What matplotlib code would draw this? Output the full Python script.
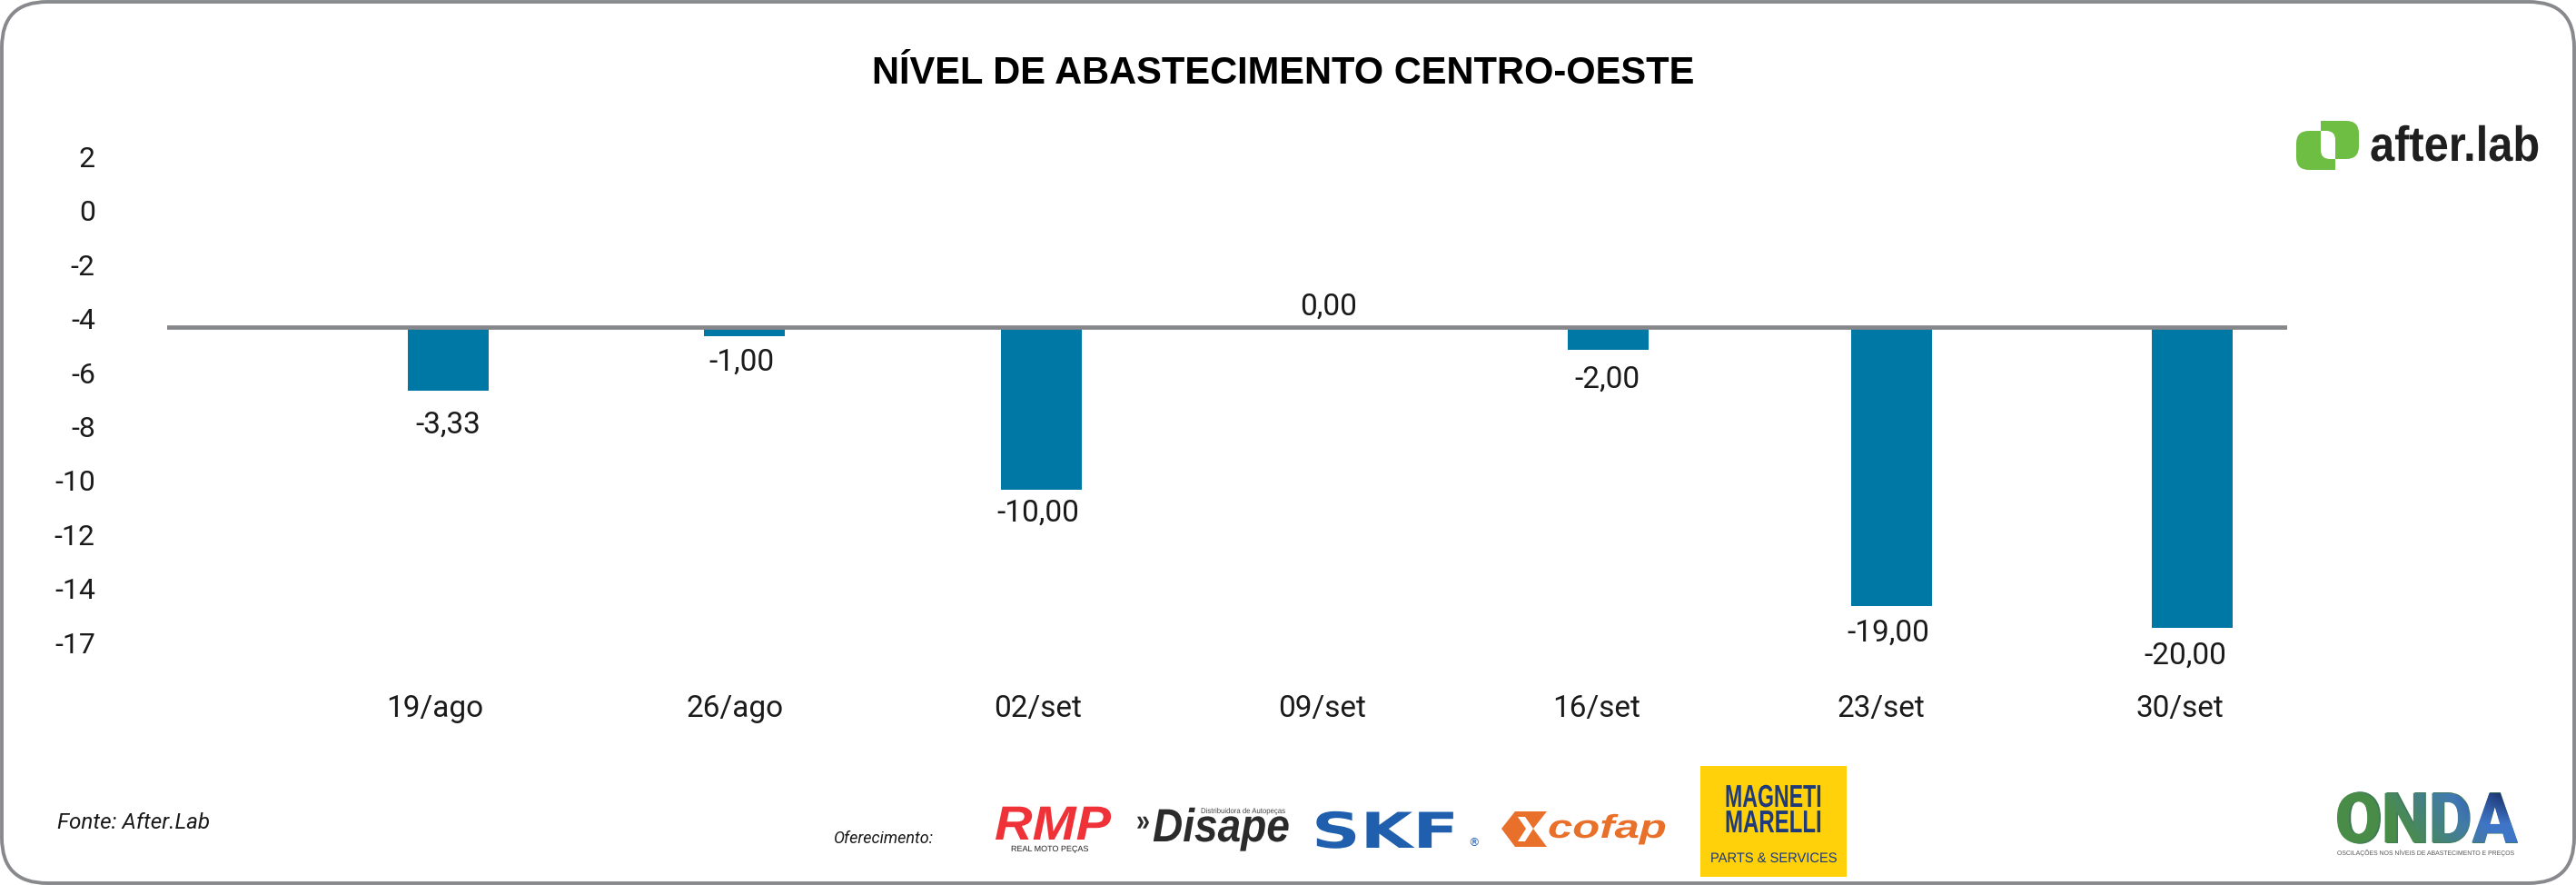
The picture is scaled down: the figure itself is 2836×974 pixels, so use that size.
import numpy as np
import matplotlib
matplotlib.use("Agg")
import matplotlib.pyplot as plt
from matplotlib.patches import PathPatch, Polygon
from matplotlib.path import Path
from matplotlib.textpath import TextPath
from matplotlib.font_manager import FontProperties
from matplotlib.patheffects import AbstractPathEffect
from matplotlib.transforms import Affine2D, IdentityTransform, ScaledTranslation

# ---------- data ----------
categories = ["19/ago", "26/ago", "02/set", "09/set", "16/set", "23/set", "30/set"]
bar_levels = [-6.60, -4.55, -10.26, -4.23, -5.07, -14.57, -15.37]
value_labels = ["-3,33", "-1,00", "-10,00", "0,00", "-2,00", "-19,00", "-20,00"]
baseline_level = -4.23
y_tick_positions = [2, 0, -2, -4, -6, -8, -10, -12, -14, -16]
y_tick_labels = ["2", "0", "-2", "-4", "-6", "-8", "-10", "-12", "-14", "-17"]

# ---------- layout (pixels of the 2836x974 canvas) ----------
W, H = 2836, 974
BAR_X = [493, 819, 1146, 1458, 1770, 2082, 2413]
CAT_X = [479, 809, 1143, 1456, 1758, 2071, 2400]
LABEL_DX = [0, -3, -3, 5, -1, -3, -7]
LABEL_DY = [37, 29, 26, -22, 33, 30, 31]
BAR_COLOR = "#0078A5"
GREY = "#86878A"
INK = "#1A1A1A"
FONT = "Roboto"

fig = plt.figure(figsize=(W / 100, H / 100), dpi=100, facecolor="white")
renderer = fig.canvas.get_renderer()

# ---------- chart ----------
ax = fig.add_axes([184 / W, 1 - 720 / H, (2518 - 184) / W, (720 - 160) / H])
ax.set_xlim(184, 2518)
ax.set_ylim(2 - (720 - 175) / 29.7, 2 - (160 - 175) / 29.7)
ax.patch.set_alpha(0)
for s in ax.spines.values():
    s.set_visible(False)

heights = [lv - baseline_level for lv in bar_levels]
ax.bar(BAR_X, heights, bottom=baseline_level, width=89, color=BAR_COLOR, zorder=2)
ax.axhline(baseline_level, color=GREY, lw=3.4, zorder=3)

ax.set_yticks(y_tick_positions)
ax.set_yticklabels(y_tick_labels, fontsize=23, family=FONT, color=INK)
ax.set_xticks(CAT_X)
ax.set_xticklabels(categories, fontsize=24, family=FONT, color=INK)
ax.tick_params(axis="y", length=0, pad=57)
ax.tick_params(axis="x", length=0, pad=32)
for lab in ax.get_yticklabels():
    lab.set_transform(lab.get_transform() + ScaledTranslation(0, 2.5 / 100, fig.dpi_scale_trans))

for x, lv, txt, dx, dy in zip(BAR_X, bar_levels, value_labels, LABEL_DX, LABEL_DY):
    ax.annotate(txt, xy=(x, lv), xytext=(dx, -dy), textcoords="offset pixels",
                ha="center", va="center", fontsize=24, family=FONT, color=INK, zorder=4)

# ---------- overlay: frame, title, footer, logos ----------
ov = fig.add_axes([0, 0, 1, 1], zorder=10)
ov.set_xlim(0, W)
ov.set_ylim(H, 0)
ov.axis("off")
ov.patch.set_alpha(0)


def rrect(x0, y0, x1, y1, tl=0, tr=0, br=0, bl=0):
    """Rounded rectangle path with its own radius per corner (y grows downward)."""
    v = [(x0 + tl, y0), (x1 - tr, y0), (x1, y0), (x1, y0 + tr), (x1, y1 - br), (x1, y1),
         (x1 - br, y1), (x0 + bl, y1), (x0, y1), (x0, y1 - bl), (x0, y0 + tl), (x0, y0),
         (x0 + tl, y0), (x0 + tl, y0)]
    c = [Path.MOVETO, Path.LINETO, Path.CURVE3, Path.CURVE3, Path.LINETO, Path.CURVE3, Path.CURVE3,
         Path.LINETO, Path.CURVE3, Path.CURVE3, Path.LINETO, Path.CURVE3, Path.CURVE3, Path.CLOSEPOLY]
    return Path(v, c)


class HStretch(AbstractPathEffect):
    """Stretches a text horizontally about x0 (display px) so it fits a logo's box."""
    def __init__(self, sx, x0):
        super().__init__()
        self.sx, self.x0 = sx, x0

    def draw_path(self, renderer, gc, tpath, affine, rgbFace=None):
        a = affine + Affine2D().translate(-self.x0, 0).scale(self.sx, 1).translate(self.x0, 0)
        renderer.draw_path(gc, tpath, a, rgbFace)


def fit_text(s, x0, x1, baseline, size, color, family="Liberation Sans", weight="bold", style="normal"):
    t = ov.text(x0, baseline, s, ha="left", va="baseline", fontsize=size, color=color,
                family=family, weight=weight, style=style, zorder=5)
    w = t.get_window_extent(renderer).width
    t.set_path_effects([HStretch((x1 - x0) / w, x0)])
    return t


# frame
ov.add_patch(PathPatch(rrect(2, 2, W - 2, H - 2, 50, 50, 50, 50), fc="none", ec="#88898C", lw=2.8, zorder=1))

# title and footer
ov.text(1413, 81, "NÍVEL DE ABASTECIMENTO CENTRO-OESTE", ha="center", va="center",
        fontsize=30, family="Liberation Sans", weight="bold", color="black")
ov.text(63, 905, "Fonte: After.Lab", ha="left", va="center", fontsize=17.5, family=FONT, style="italic", color=INK)
ov.text(918, 923, "Oferecimento:", ha="left", va="center", fontsize=13, family=FONT, style="italic", color=INK)

# after.lab logo
GREEN = "#6FBE44"
ov.add_patch(PathPatch(rrect(2528, 144, 2571, 187, tl=14, bl=14), fc=GREEN, ec="none", zorder=3))
ov.add_patch(PathPatch(rrect(2555, 133, 2597, 175, tr=14, br=14), fc=GREEN, ec="none", zorder=3))
ov.add_patch(PathPatch(rrect(2555, 144, 2571, 175, tr=10, bl=10), fc="white", ec="none", zorder=4))
fit_text("after.lab", 2609, 2796, 177, 39, "#1F1F1F")

# RMP
fit_text("RMP", 1095, 1223, 924, 38, "#EE3237", style="italic")
fit_text("REAL MOTO PEÇAS", 1113, 1198, 937, 6.5, "#222222", weight="normal")

# Disape
fit_text("»", 1251, 1266, 914, 24, "#2B2B2B")
fit_text("Disape", 1269, 1420, 926, 37, "#2B2B2B", style="italic")
fit_text("Distribuidora de Autopeças", 1322, 1416, 895, 6, "#444444", weight="normal")

# SKF
SKF_BLUE = "#1F5FAE"
fit_text("SKF", 1444, 1606, 933, 39, SKF_BLUE, family="DejaVu Sans")
ov.text(1622, 928, "®", ha="center", va="center", fontsize=9, color=SKF_BLUE, family="DejaVu Sans")

# cofap
ORANGE = "#E8702A"
ov.add_patch(Polygon([(1653, 912), (1668, 893), (1703, 893), (1688, 912), (1703, 932), (1668, 932)],
                     closed=True, fc=ORANGE, ec="none", zorder=3))
ov.add_patch(Polygon([(1671, 899), (1679, 899), (1688, 912), (1679, 926), (1671, 926), (1680, 912)],
                     closed=True, fc="white", ec="none", zorder=4))
fit_text("cofap", 1704, 1835, 922, 26, ORANGE, style="italic")

# Magneti Marelli
NAVY = "#1F3A7A"
ov.add_patch(PathPatch(rrect(1872, 843, 2033, 965), fc="#FFD10A", ec="none", zorder=3))
fit_text("MAGNETI", 1899, 2006, 888, 25, NAVY)
fit_text("MARELLI", 1899, 2006, 916, 25, NAVY)
fit_text("PARTS & SERVICES", 1883, 2022, 949, 11, NAVY, weight="normal")

# ONDA logo: real text, with a landscape-like gradient clipped to the same letters on top
OX0, OX1, OY0, OY1 = 2573, 2772, 872, 928
ONDA_PROP = FontProperties(family=FONT, weight=900)
t = fit_text("ONDA", OX0, OX1, OY1, 56 / 0.711 * 0.72, "#3F7A55", family=FONT, weight=900)
tp = TextPath((0, 0), "ONDA", size=100, prop=ONDA_PROP)
ext = tp.get_extents()
to_px = (Affine2D().translate(-ext.x0, -ext.y0)
         .scale((OX1 - OX0) / ext.width, (OY1 - OY0) / ext.height)
         .translate(OX0, H - OY1))
u, v = np.meshgrid(np.linspace(0, 1, 200), np.linspace(0, 1, 60))
green = np.array([0.29, 0.55, 0.28])
blue = np.array([0.25, 0.46, 0.78])
navy = np.array([0.05, 0.10, 0.30])
mix = np.clip((u - 0.3) / 0.5 + (0.5 - v) * 0.4, 0, 1)[..., None]
dark = (np.clip((u - 0.65) / 0.35, 0, 1) * np.clip(1 - v * 1.6, 0, 1))[..., None]
grad = (green * (1 - mix) + blue * mix) * (1 - dark) + navy * dark
im = ov.imshow(grad, extent=(OX0, OX1, OY1, OY0), aspect="auto", zorder=6, interpolation="bilinear")
im.set_clip_path(to_px.transform_path(tp), IdentityTransform())
ov.set_xlim(0, W)
ov.set_ylim(H, 0)
fit_text("OSCILAÇÕES NOS NÍVEIS DE ABASTECIMENTO E PREÇOS", 2573, 2772, 941, 5, "#555555", weight="normal")

fig.savefig("out.png", dpi=100)
